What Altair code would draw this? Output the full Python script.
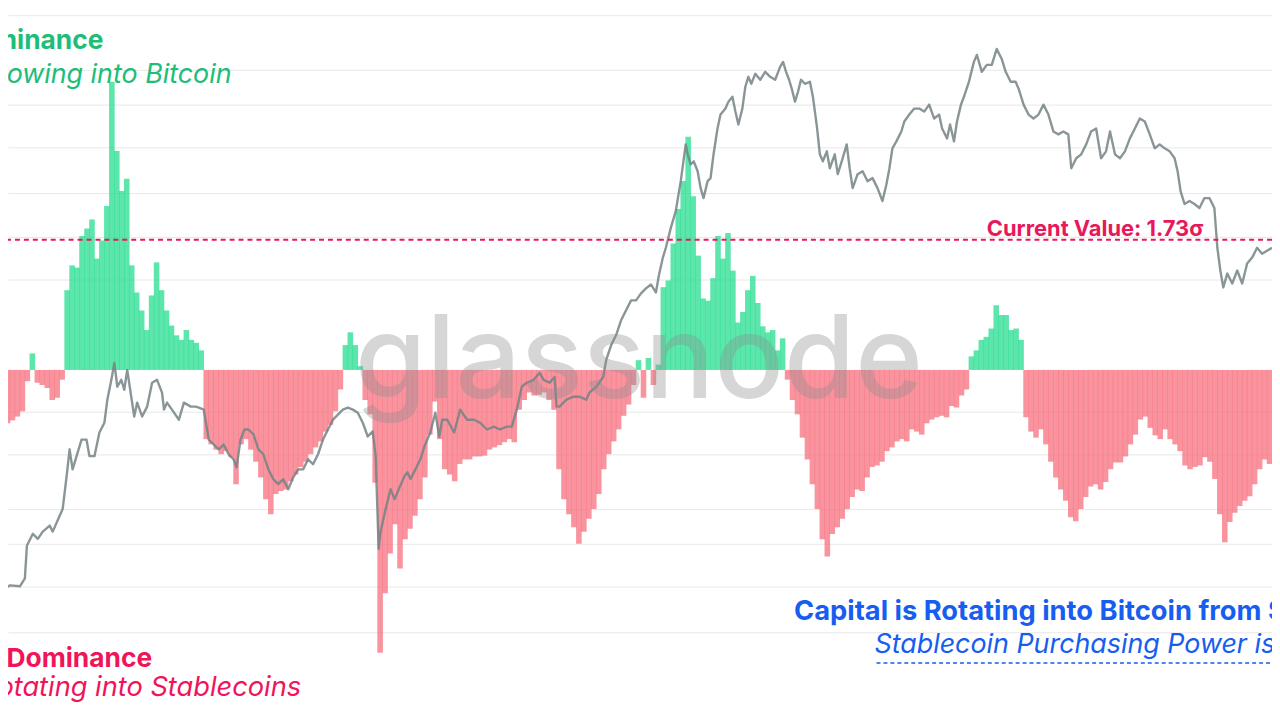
import altair as alt
import pandas as pd

# ---------------- data ----------------
# SSR-style oscillator, one bar per 5 days (sigma units)
ssr_osc = [
    -0.75, -0.71, -0.67, -0.62, -0.55, -0.15, 0.22, -0.17, -0.20, -0.24,
    -0.40, -0.37, -0.13, 1.06, 1.39, 1.36, 1.78, 1.88, 2.00, 1.48,
    1.72, 2.18, 3.83, 2.91, 2.38, 2.54, 1.39, 1.03, 0.79, 0.53,
    0.99, 1.43, 1.06, 0.79, 0.59, 0.46, 0.40, 0.53, 0.40, 0.36,
    0.26, -0.92, -0.99, -1.06, -1.12, -1.08, -1.16, -1.52, -0.99, -0.92,
    -1.06, -1.22, -1.43, -1.72, -1.92, -1.65, -1.61, -1.59, -1.48, -1.39,
    -1.29, -1.22, -1.12, -1.03, -0.95, -0.82, -0.73, -0.55, -0.26, 0.33,
    0.50, 0.33, 0.05, -0.40, -0.59, -1.50, -3.76, -2.97, -2.44, -2.05,
    -2.64, -2.25, -2.11, -1.94, -1.72, -1.43, -0.86, -0.42, -0.92, -1.32,
    -1.39, -1.48, -1.25, -1.19, -1.19, -1.15, -1.15, -1.14, -1.06, -1.03,
    -1.00, -0.96, -0.92, -0.96, -0.53, -0.40, -0.30, -0.34, -0.33, -0.30,
    -0.40, -0.53, -1.32, -1.72, -1.92, -2.09, -2.31, -2.15, -1.98, -1.85,
    -1.65, -1.32, -1.12, -0.95, -0.79, -0.61, -0.46, -0.20, 0.13, -0.37,
    0.16, -0.20, 0.07, 1.10, 1.19, 1.68, 2.14, 2.51, 3.10, 2.31,
    1.52, 0.95, 0.92, 1.22, 1.78, 1.48, 1.82, 1.32, 0.63, 0.77,
    1.06, 1.25, 0.89, 0.58, 0.50, 0.53, 0.26, 0.42, -0.13, -0.40,
    -0.59, -0.90, -1.19, -1.52, -1.85, -2.25, -2.48, -2.18, -2.09, -1.98,
    -1.85, -1.69, -1.59, -1.61, -1.43, -1.29, -1.27, -1.22, -1.08, -1.03,
    -0.95, -0.92, -0.95, -0.79, -0.82, -0.86, -0.71, -0.66, -0.63, -0.61,
    -0.63, -0.48, -0.50, -0.34, -0.26, 0.18, 0.26, 0.40, 0.44, 0.55,
    0.86, 0.73, 0.73, 0.53, 0.55, 0.40, -0.63, -0.82, -0.90, -0.79,
    -0.99, -1.22, -1.43, -1.59, -1.74, -1.96, -2.01, -1.85, -1.69, -1.55,
    -1.52, -1.59, -1.49, -1.32, -1.23, -1.23, -1.15, -0.99, -0.86, -0.66,
    -0.62, -0.77, -0.87, -0.92, -0.79, -0.92, -0.99, -1.08, -1.27, -1.32,
    -1.29, -1.27, -1.16, -1.22, -1.45, -1.92, -2.29, -2.02, -1.90, -1.81,
    -1.74, -1.68, -1.52, -1.32, -1.19, -1.25,
]
bar_day = [2.5 + 5 * i for i in range(len(ssr_osc))]

# BTC price (USD), day index
price_day = [
    0, 10, 20, 25, 27, 33, 38, 43, 50, 53, 60, 63, 67, 70, 73, 77, 82, 87, 90, 95,
    100, 105, 108, 112, 115, 118, 122, 125, 128, 132, 135, 138, 143, 148, 153, 158, 163, 165, 168, 173,
    180, 185, 192, 197, 200, 205, 210, 215, 220, 225, 230, 235, 238, 242, 246, 250, 255, 260, 265, 270,
    275, 280, 285, 290, 295, 300, 305, 310, 315, 320, 325, 330, 335, 340, 345, 350, 355, 360, 365, 370,
    375, 378, 381, 383, 388, 393, 397, 400, 407, 410, 413, 418, 423, 427, 433, 438, 442, 445, 450, 457,
    463, 470, 477, 483, 490, 497, 503, 510, 515, 520, 525, 530, 537, 543, 547, 553, 558, 560, 563, 570,
    577, 583, 590, 593, 600, 607, 610, 615, 620, 625, 630, 635, 640, 645, 650, 655, 660, 663, 667, 670,
    675, 680, 685, 690, 692, 695, 698, 702, 705, 708, 712, 715, 718, 722, 725, 730, 733, 737, 740, 743,
    747, 750, 753, 756, 760, 765, 770, 775, 780, 785, 788, 791, 794, 797, 800, 803, 806, 810, 815, 818,
    820, 822, 825, 828, 832, 835, 840, 843, 847, 852, 855, 858, 863, 868, 873, 878, 883, 888, 892, 895,
    898, 902, 907, 910, 915, 920, 925, 930, 935, 940, 945, 948, 953, 956, 960, 963, 967, 970, 975, 980,
    983, 988, 993, 998, 1003, 1008, 1012, 1017, 1022, 1025, 1030, 1035, 1040, 1045, 1050, 1055, 1060, 1065, 1070, 1075,
    1078, 1083, 1088, 1093, 1098, 1103, 1108, 1113, 1117, 1122, 1127, 1132, 1137, 1142, 1147, 1152, 1157, 1162, 1167, 1172,
    1177, 1182, 1185, 1188, 1192, 1197, 1202, 1207, 1212, 1217, 1222, 1225, 1228, 1231, 1235, 1240, 1245, 1250, 1255, 1260,
    1265, 1270, 1275, 1280,
]
price_usd = [
    3900, 4030, 4010, 4180, 4960, 5280, 5140, 5340, 5510, 5340, 5800, 6010, 7140, 8220, 7400, 7930, 8650, 8650, 7930, 7930,
    8980, 9450, 10660, 11830, 12930, 11410, 11830, 11230, 12460, 10830, 9760, 10500, 9760, 10280, 11650, 11830, 11060, 10120, 10500, 10120,
    9600, 10500, 10280, 10280, 10230, 10120, 8650, 8430, 8220, 8430, 8010, 7800, 7480, 8650, 9120, 9120, 8890, 8220, 8010, 7400,
    7030, 6850, 7030, 6670, 7100, 7400, 7400, 7800, 7600, 8010, 8650, 9120, 9600, 9860, 10120, 10230, 10120, 9960, 9450, 8790,
    9030, 7930, 4880, 5340, 6010, 6670, 6330, 6570, 7140, 7290, 7030, 7400, 7800, 8340, 8980, 9960, 8790, 9600, 9600, 8980,
    10120, 9600, 9600, 9450, 9120, 9260, 9120, 9260, 9260, 10120, 11410, 11650, 11830, 12270, 11830, 11650, 12010, 10280, 10280, 10660,
    10830, 10830, 10660, 11060, 11410, 12010, 13130, 14200, 14960, 16170, 17030, 17940, 17940, 18610, 19100, 19500, 18700, 20440, 22450, 23640,
    26240, 28660, 33510, 40640, 38570, 36610, 37190, 35310, 32310, 30670, 33510, 34050, 38570, 44170, 47510, 49020, 50840, 52170, 48260, 45100,
    49020, 54970, 57910, 55830, 58820, 57010, 59440, 57910, 57010, 61000, 62610, 59440, 57010, 54120, 50840, 53550, 57010, 55830, 56420, 52170,
    48260, 44630, 38570, 37190, 39180, 35860, 38570, 34760, 37190, 40640, 35860, 32310, 34760, 35310, 33510, 34050, 32310, 30200, 32990, 35860,
    39800, 41280, 43490, 45810, 47510, 49020, 49020, 48260, 50050, 46530, 47510, 44170, 41930, 45100, 41280, 45810, 50050, 52170, 56420, 62610,
    64940, 59440, 61640, 61640, 67000, 63600, 59440, 56420, 56420, 54400, 50050, 47510, 46530, 47510, 50050, 47510, 43490, 42820, 43490, 42820,
    35860, 37780, 38570, 40640, 43490, 44170, 37780, 39180, 43490, 38570, 37780, 39180, 41930, 44170, 46530, 45810, 42820, 39800, 40640, 39800,
    39180, 37780, 35310, 31810, 29730, 30200, 29730, 29120, 30670, 30670, 29120, 23640, 20980, 19200, 20650, 19600, 20980, 19600, 21760, 22450,
    23640, 22920, 23280, 23640,
]

grid_prices = [2000, 3150, 4000, 5000, 6000, 8000, 10000, 20000, 25000, 31500, 40000, 50000, 60000, 80000]
current_value = [1.73]

labels = {
    "up_title": "BTC Dominance",
    "up_sub": "Capital Flowing into Bitcoin",
    "down_title": "Stablecoin Dominance",
    "down_sub": "Capital Rotating into Stablecoins",
    "right_title": "Capital is Rotating into Bitcoin from Stablecoins",
    "right_sub": "Stablecoin Purchasing Power is High",
    "current": "Current Value: 1.73σ",
    "mark": "glassnode",
}

# ---------------- styling ----------------
W, H = 1272, 704
DAY_DOMAIN = [8, 1280]
OSC_DOMAIN = [-4.518, 4.782]
PRICE_DOMAIN = [2099, 82090]

GREEN_BAR = "#26de90"
RED_BAR = "#f7707f"
LINE = "#748385"
GREEN_TXT = "#1dbd7a"
RED_TXT = "#f0145a"
BLUE_TXT = "#165df0"
CRIMSON = "#e8185a"
FONT = "Inter"

bars_df = pd.DataFrame({"day": bar_day, "osc": ssr_osc})
price_df = pd.DataFrame({"day": price_day, "price": price_usd})
cv_df = pd.DataFrame({"cv": current_value})
one = pd.DataFrame({"k": [0]})

xs = alt.Scale(domain=DAY_DOMAIN, zero=False, nice=False)
ys = alt.Scale(domain=OSC_DOMAIN, zero=False, nice=False)
ps = alt.Scale(type="log", domain=PRICE_DOMAIN, nice=False)

bars = (
    alt.Chart(bars_df)
    .transform_calculate(d0="datum.day - 2.8", d1="datum.day + 2.8", zero="0")
    .mark_bar(opacity=0.75, clip=True)
    .encode(
        x=alt.X("d0:Q", scale=xs, axis=None),
        x2="d1:Q",
        y=alt.Y("osc:Q", scale=ys, axis=None),
        y2="zero:Q",
        color=alt.when(alt.datum.osc >= 0).then(alt.value(GREEN_BAR)).otherwise(alt.value(RED_BAR)),
    )
)

grid_layer = (
    alt.Chart(price_df)
    .mark_line(opacity=0, clip=True)
    .encode(
        x=alt.X("day:Q", scale=xs, axis=None),
        y=alt.Y(
            "price:Q",
            scale=ps,
            axis=alt.Axis(
                values=grid_prices, grid=True, gridColor="#e8e8e8", gridWidth=1,
                labels=False, ticks=False, domain=False, title=None, orient="right",
            ),
        ),
    )
)

price_line = (
    alt.Chart(price_df)
    .mark_line(color=LINE, strokeWidth=2.4, opacity=0.85, clip=True, strokeJoin="round")
    .encode(
        x=alt.X("day:Q", scale=xs, axis=None),
        y=alt.Y("price:Q", scale=ps, axis=None),
    )
)

cv_rule = (
    alt.Chart(cv_df)
    .mark_rule(color=CRIMSON, strokeDash=[5, 4], strokeWidth=2)
    .encode(y=alt.Y("cv:Q", scale=ys, axis=None))
)


def label(text, x, y, size, color, weight="bold", style="normal", align="left", opacity=1.0):
    return (
        alt.Chart(one)
        .mark_text(
            text=text, align=align, baseline="alphabetic", fontSize=size, fontWeight=weight,
            fontStyle=style, color=color, font=FONT, clip=True, opacity=opacity,
        )
        .encode(x=alt.value(x - 8), y=alt.value(y - 8))
    )


underline = (
    alt.Chart(one)
    .mark_rule(color=BLUE_TXT, strokeDash=[4, 3], strokeWidth=1.5)
    .encode(x=alt.value(882 - 8), x2=alt.value(W), y=alt.value(665 - 8))
)

layers = [
    grid_layer,
    bars,
    price_line,
    cv_rule,
    label(labels["mark"], 643, 398, 116, "#8c8c8c", weight=500, align="center", opacity=0.35),
    label(labels["up_title"], 104, 47, 26.5, GREEN_TXT, align="right"),
    label(labels["up_sub"], 233, 81, 27, GREEN_TXT, weight="normal", style="italic", align="right"),
    label(labels["down_title"], 153, 669, 26.5, RED_TXT, align="right"),
    label(labels["down_sub"], 303, 698, 27.4, RED_TXT, weight="normal", style="italic", align="right"),
    label(labels["right_title"], 799, 622, 27.5, BLUE_TXT),
    label(labels["right_sub"], 880, 655, 27, BLUE_TXT, weight="normal", style="italic"),
    underline,
    label(labels["current"], 993, 235, 22, CRIMSON),
]

chart = (
    alt.layer(*layers)
    .resolve_scale(y="independent")
    .properties(width=W, height=H, padding=0, autosize=alt.AutoSizeParams(type="none"), background="white")
    .configure_view(strokeWidth=0)
)

chart.save("out.html", embed_options={"renderer": "svg", "actions": False})
